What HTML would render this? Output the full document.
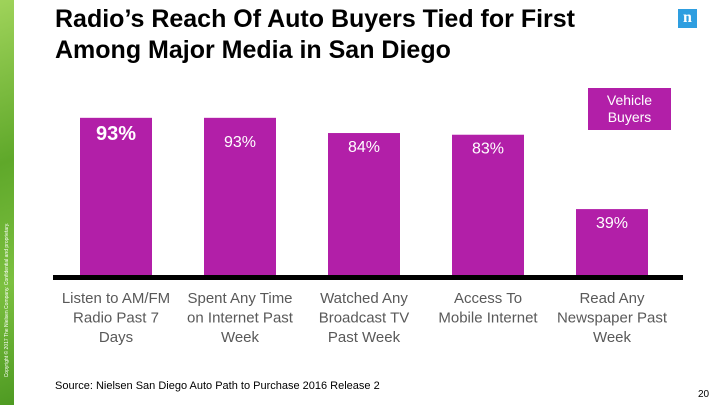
<!DOCTYPE html>
<html><head><meta charset="utf-8"><style>
body{margin:0;width:720px;height:405px;background:#fff;position:relative;overflow:hidden;font-family:"Liberation Sans",sans-serif}
.abs{position:absolute}
</style></head><body>
<div class="abs" style="left:0;top:0;width:14px;height:405px;background:linear-gradient(160deg,#9fd35a,#5fa82a 40%,#7cc040 70%,#4e9a22)"></div>
<div class="abs" style="left:7px;top:300px;transform:translate(-50%,-50%) rotate(-90deg);white-space:nowrap;font-size:5px;color:#fff">Copyright © 2017 The Nielsen Company. Confidential and proprietary.</div>
<div class="abs" style="left:55px;top:4px;font-size:25px;font-weight:bold;line-height:31px;color:#000">Radio’s Reach Of Auto Buyers Tied for First<br>Among Major Media in San Diego</div>
<div class="abs" style="left:678px;top:9px;width:19px;height:19px;background:#2e9ee0;color:#fff;font:bold 16px 'Liberation Serif',serif;text-align:center;line-height:17px">n</div>
<div class="abs" style="left:588px;top:88px;width:83px;height:42px;background:#b21fa8;color:#fff;font-size:14px;text-align:center;line-height:17px;padding-top:4px;box-sizing:border-box">Vehicle<br>Buyers</div>
<svg class="abs" style="left:0;top:0" width="720" height="405" id="chart"></svg>
<div class="abs" style="left:55px;top:380px;font-size:11px;color:#000">Source: Nielsen San Diego Auto Path to Purchase 2016 Release 2</div>
<div class="abs" style="left:698px;top:389px;font-size:10px;color:#000">20</div>
<script>
const categories=[["Listen to AM/FM","Radio Past 7","Days"],["Spent Any Time","on Internet Past","Week"],["Watched Any","Broadcast TV","Past Week"],["Access To","Mobile Internet"],["Read Any","Newspaper Past","Week"]];
const values=[93,93,84,83,39];
const labels=["93%","93%","84%","83%","39%"];
const svg=document.getElementById('chart');
const NS='http://www.w3.org/2000/svg';
const baseY=275,scale=169/100,x0=116,step=124,bw=72;
const yPos=v=>baseY-v*scale;
const xPos=i=>x0+i*step;
function mk(t,a){const e=document.createElementNS(NS,t);for(const k in a)e.setAttribute(k,a[k]);svg.appendChild(e);return e;}
values.forEach((v,i)=>{
 const r=mk('rect',{x:xPos(i)-bw/2,y:yPos(v),width:bw,height:baseY-yPos(v),fill:'#b21fa8'});
 
 
 const first=i===0;
 const off=first?22:(i===1?29:19);
 const t=mk('text',{x:xPos(i),y:yPos(v)+off,'text-anchor':'middle',fill:'#fff','font-size':first?20:16,'font-weight':first?'bold':'normal','font-family':'Liberation Sans, sans-serif'});
 t.textContent=labels[i];
 
 
 categories[i].forEach((ln,j)=>{
  const c=mk('text',{x:xPos(i),y:303+j*19.5,'text-anchor':'middle',fill:'#595959','font-size':15,'font-family':'Liberation Sans, sans-serif'});
  c.textContent=ln;
  
  
 });
});
const ax=mk('rect',{x:53,y:275,width:630,height:5,fill:'#000'});


</script>
</body></html>
